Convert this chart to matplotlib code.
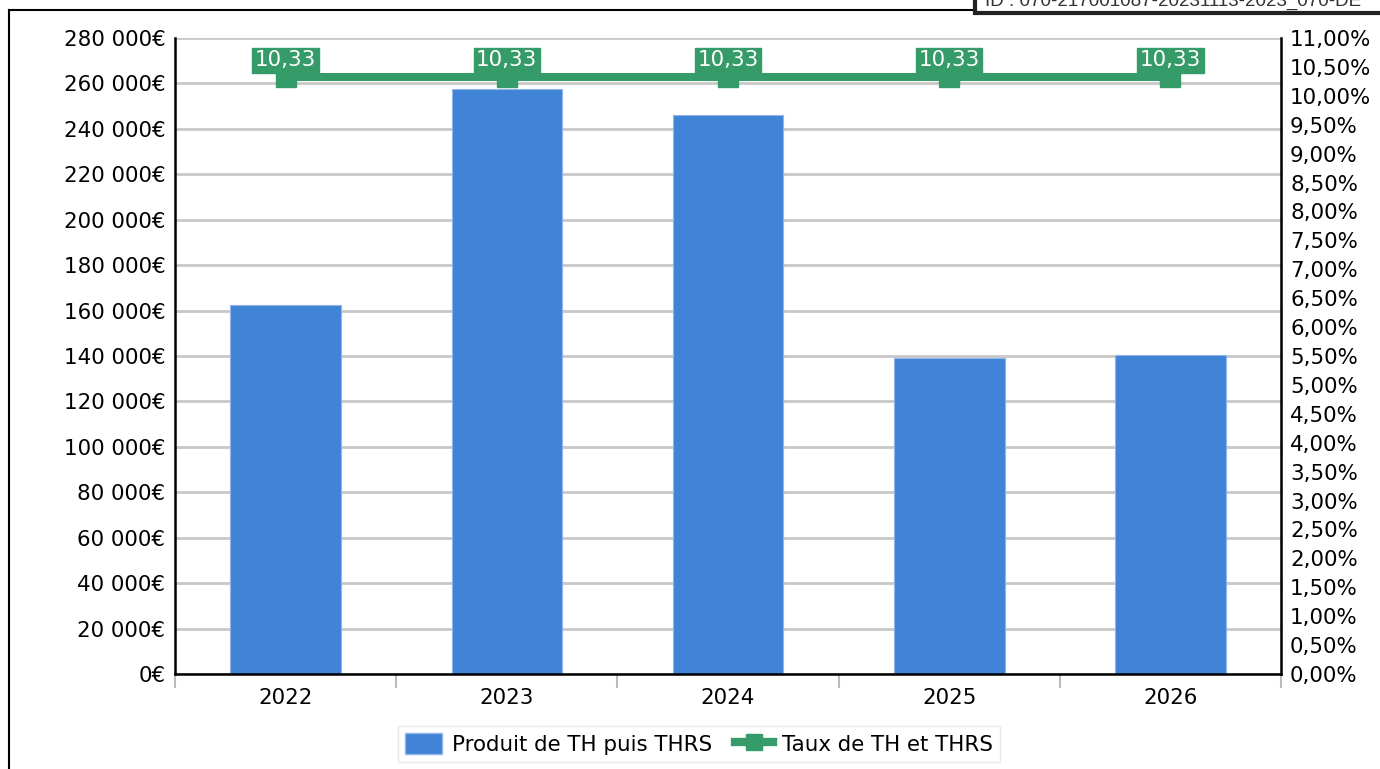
import matplotlib
matplotlib.use("Agg")
import matplotlib.pyplot as plt
from matplotlib.lines import Line2D
from matplotlib.patches import Patch, Rectangle
from matplotlib.ticker import FuncFormatter, MultipleLocator, FixedLocator

plt.rcParams['font.family'] = ['DejaVu Sans']

years = ["2022", "2023", "2024", "2025", "2026"]
produit = [162400, 257400, 246000, 139100, 140600]
taux = [10.33, 10.33, 10.33, 10.33, 10.33]
taux_labels = ["10,33", "10,33", "10,33", "10,33", "10,33"]

BLUE = "#4183d7"
GREEN = "#359b69"
GRID = "#c8c8c8"
FS = 15.4

W, H = 1380, 769
fig = plt.figure(figsize=(W / 100, H / 100), dpi=100)

def px_box(l, t, r, b):
    return [l / W, 1 - b / H, (r - l) / W, (b - t) / H]

ax = fig.add_axes(px_box(175, 38, 1281, 674))
ax2 = ax.twinx()

x = list(range(len(years)))
ax.bar(x, produit, width=0.5, color=BLUE, edgecolor="#8fb6ea", linewidth=0.8, zorder=2)
ax.set_xlim(-0.5, len(years) - 0.5)
ax.set_ylim(0, 280000)
ax.yaxis.set_major_locator(MultipleLocator(20000))

def euro(v, _):
    v = int(round(v))
    if v == 0:
        return "0€"
    return f"{v:,}".replace(",", " ") + "€"

ax.yaxis.set_major_formatter(FuncFormatter(euro))
ax.grid(axis="y", color=GRID, linewidth=2, zorder=0)
ax.set_axisbelow(True)

# category boundaries as ticks, year names centred between them
ax.xaxis.set_major_locator(FixedLocator([i - 0.5 for i in range(len(years) + 1)]))
ax.xaxis.set_major_formatter(FuncFormatter(lambda v, _: ""))
ax.set_xticks(x, years, minor=True)
ax.tick_params(axis="x", which="major", length=10, width=1.5, color="#bbbbbb")
ax.tick_params(axis="x", which="minor", length=0, pad=10, labelsize=FS)
ax.tick_params(axis="y", length=0, pad=7, labelsize=FS)

ax.spines["top"].set_visible(False)
ax2.spines["top"].set_visible(False)
ax.spines["left"].set_linewidth(1.8)
ax.spines["bottom"].set_linewidth(1.8)
ax2.spines["right"].set_linewidth(1.8)
ax2.spines["left"].set_visible(False)
ax2.spines["bottom"].set_visible(False)

ax2.set_ylim(0, 11)
ax2.yaxis.set_major_locator(MultipleLocator(0.5))
ax2.yaxis.set_major_formatter(FuncFormatter(lambda v, _: f"{v:.2f}".replace(".", ",") + "%"))
ax2.tick_params(axis="y", length=0, pad=6.5, labelsize=FS)

ax2.plot(x, taux, color=GREEN, linewidth=5.8, marker="s", markersize=15,
         markerfacecolor=GREEN, markeredgecolor=GREEN, zorder=3, solid_capstyle="butt")

for xi, yi, lab in zip(x, taux, taux_labels):
    ax2.annotate(lab, (xi, yi), xytext=(0, 12), textcoords="offset points",
                 ha="center", va="center", color="white", fontsize=FS, zorder=5,
                 bbox=dict(boxstyle="square,pad=0.12", facecolor=GREEN, edgecolor=GREEN))

handles = [Patch(facecolor=BLUE, edgecolor="#8fb6ea"),
           Line2D([0], [0], color=GREEN, linewidth=6, marker="s", markersize=11)]
leg = fig.legend(handles, ["Produit de TH puis THRS", "Taux de TH et THRS"],
                 loc="center", bbox_to_anchor=(699 / W, 1 - 744 / H), ncol=2,
                 fontsize=FS, frameon=True, fancybox=False, handlelength=1.75,
                 handleheight=1.1, columnspacing=1.1, handletextpad=0.45,
                 borderpad=0.32, borderaxespad=0)
leg.get_frame().set_edgecolor("#e4e4e4")
leg.get_frame().set_linewidth(1)

# outer frame of the exported page
fig.add_artist(Line2D([9 / W, 976 / W], [1 - 10 / H, 1 - 10 / H], color="black", linewidth=1.5))
fig.add_artist(Line2D([9 / W, 9 / W], [1 - 10 / H, 0], color="black", linewidth=1.5))

# registration stamp in the top right corner
stamp = Rectangle((975 / W, 1 - 13 / H), (W - 975 + 20) / W, 40 / H,
                  transform=fig.transFigure, facecolor="white", edgecolor="#222222",
                  linewidth=3, zorder=10)
fig.add_artist(stamp)
fig.text(985 / W, 1 - 6 / H, "ID : 070-217001087-20231113-2023_070-DE", fontsize=13.5,
         family="Liberation Sans", color="#333333", va="baseline", ha="left", zorder=11)

fig.savefig("out.png", dpi=100)
